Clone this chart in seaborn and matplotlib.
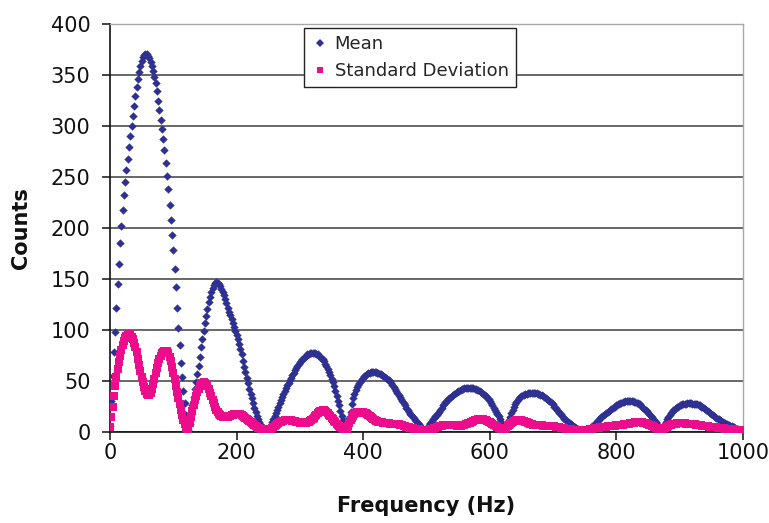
import numpy as np
import pandas as pd
import matplotlib
matplotlib.use("Agg")
import matplotlib.pyplot as plt
from matplotlib.lines import Line2D
import seaborn as sns

# Frequency grid (Hz), sampled every 2 Hz
freq = np.arange(0, 1001, 2)

# Mean counts (one row = 20 Hz)
mean_counts = [
    6, 30, 55, 78, 98, 122, 145, 165, 185, 202,          # 0-18
    218, 232, 245, 257, 268, 279, 290, 300, 310, 320,    # 20-38
    329, 338, 346, 353, 359, 364, 368, 370, 371, 371,    # 40-58
    369, 367, 363, 359, 354, 348, 342, 334, 325, 316,    # 60-78
    306, 297, 287, 276, 264, 251, 238, 223, 208, 193,    # 80-98
    178, 160, 142, 122, 102, 85, 68, 54, 40, 28,         # 100-118
    17, 9, 2, 8, 17, 26, 34, 42, 49, 57,                 # 120-138
    65, 74, 83, 91, 99, 107, 114, 121, 127, 132,         # 140-158
    137, 141, 144, 146, 147, 146, 145, 143, 140, 137,    # 160-178
    134, 130, 126, 122, 118, 115, 111, 107, 103, 99,     # 180-198
    95, 91, 86, 81, 76, 70, 64, 59, 53, 48,              # 200-218
    42, 37, 33, 28, 24, 20, 16, 13, 10, 7,               # 220-238
    5, 3, 2, 1, 1, 2, 4, 7, 10, 13,                      # 240-258
    16, 19, 22, 25, 28, 31, 34, 37, 40, 43,              # 260-278
    46, 48, 51, 53, 56, 58, 61, 63, 65, 67,              # 280-298
    69, 70, 72, 73, 74, 75, 76, 76, 77, 77,              # 300-318
    77, 77, 77, 76, 76, 75, 74, 73, 72, 70,              # 320-338
    67, 65, 62, 59, 56, 52, 49, 45, 40, 35,              # 340-358
    30, 26, 21, 16, 12, 8, 4, 2, 8, 14,                  # 360-378
    20, 27, 33, 37, 41, 44, 46, 48, 50, 52,              # 380-398
    53, 55, 56, 57, 58, 58, 59, 59, 59, 59,              # 400-418
    59, 58, 58, 57, 57, 56, 55, 54, 53, 52,              # 420-438
    51, 50, 48, 46, 44, 42, 40, 38, 36, 34,              # 440-458
    32, 30, 28, 26, 24, 22, 20, 18, 17, 15,              # 460-478
    14, 12, 11, 9, 8, 6, 5, 3, 2, 1,                     # 480-498
    3, 5, 7, 9, 11, 13, 14, 16, 17, 19,                  # 500-518
    20, 22, 24, 26, 27, 29, 30, 32, 33, 34,              # 520-538
    35, 36, 37, 38, 39, 40, 40, 41, 42, 42,              # 540-558
    43, 43, 43, 43, 43, 43, 43, 43, 42, 42,              # 560-578
    41, 41, 40, 39, 38, 37, 36, 35, 33, 32,              # 580-598
    30, 28, 26, 24, 22, 20, 18, 16, 13, 10,              # 600-618
    6, 3, 2, 5, 8, 12, 15, 19, 22, 25,                   # 620-638
    27, 29, 31, 33, 34, 35, 36, 36, 37, 37,              # 640-658
    38, 38, 38, 38, 38, 38, 38, 38, 37, 37,              # 660-678
    36, 36, 35, 34, 33, 32, 31, 30, 29, 28,              # 680-698
    27, 25, 24, 22, 21, 19, 18, 16, 15, 13,              # 700-718
    12, 11, 10, 9, 8, 7, 6, 5, 4, 3,                     # 720-738
    3, 2, 2, 1, 1, 1, 2, 2, 3, 4,                        # 740-758
    5, 6, 7, 8, 9, 11, 12, 14, 15, 16,                   # 760-778
    17, 18, 19, 20, 21, 22, 23, 24, 25, 25,              # 780-798
    26, 27, 27, 28, 28, 29, 29, 30, 30, 30,              # 800-818
    30, 30, 30, 30, 29, 29, 28, 28, 27, 27,              # 820-838
    25, 24, 23, 22, 21, 19, 18, 16, 15, 13,              # 840-858
    12, 10, 8, 6, 5, 3, 2, 4, 7, 10,                     # 860-878
    13, 15, 17, 19, 20, 22, 23, 24, 25, 25,              # 880-898
    26, 26, 27, 27, 27, 27, 28, 28, 28, 28,              # 900-918
    27, 27, 27, 27, 27, 26, 26, 25, 25, 24,              # 920-938
    23, 22, 21, 20, 19, 18, 17, 16, 15, 14,              # 940-958
    13, 13, 12, 11, 10, 9, 9, 8, 7, 7,                   # 960-978
    6, 6, 5, 5, 4, 3, 3, 2, 2, 1,                        # 980-998
    1,                                                   # 1000
]

# Standard deviation (one row = 20 Hz)
std_counts = [
    5, 15, 25, 35, 45, 54, 62, 69, 75, 80,               # 0-18
    85, 89, 92, 94, 95, 96, 95, 93, 91, 87,              # 20-38
    83, 78, 72, 66, 60, 54, 49, 44, 40, 37,              # 40-58
    36, 36, 38, 42, 47, 52, 58, 63, 68, 72,              # 60-78
    75, 77, 78, 79, 79, 79, 77, 74, 70, 64,              # 80-98
    58, 52, 45, 39, 33, 27, 22, 17, 12, 8,               # 100-118
    4, 1, 3, 9, 15, 21, 26, 31, 35, 39,                  # 120-138
    42, 45, 47, 48, 49, 48, 47, 45, 42, 38,              # 140-158
    35, 31, 28, 25, 22, 20, 18, 17, 16, 15,              # 160-178
    15, 15, 15, 15, 16, 16, 17, 17, 18, 18,              # 180-198
    18, 18, 18, 18, 17, 16, 15, 14, 13, 12,              # 200-218
    11, 10, 9, 8, 7, 6, 5, 4, 4, 3,                      # 220-238
    3, 2, 2, 2, 2, 2, 3, 3, 4, 5,                        # 240-258
    6, 7, 8, 9, 10, 10, 11, 11, 12, 12,                  # 260-278
    12, 12, 12, 12, 11, 11, 11, 10, 10, 10,              # 280-298
    9, 9, 9, 9, 9, 9, 10, 10, 11, 12,                    # 300-318
    13, 14, 16, 17, 19, 20, 21, 21, 22, 22,              # 320-338
    21, 20, 19, 17, 16, 14, 13, 11, 10, 8,               # 340-358
    7, 6, 5, 4, 3, 2, 1, 3, 6, 9,                        # 360-378
    12, 14, 16, 18, 19, 20, 20, 20, 20, 20,              # 380-398
    20, 19, 19, 18, 17, 16, 15, 14, 13, 12,              # 400-418
    11, 11, 10, 10, 10, 10, 9, 9, 9, 9,                  # 420-438
    9, 8, 8, 8, 8, 8, 8, 8, 8, 7,                        # 440-458
    7, 7, 6, 6, 5, 5, 5, 4, 4, 4,                        # 460-478
    3, 3, 3, 3, 3, 2, 2, 2, 2, 2,                        # 480-498
    2, 2, 2, 3, 3, 3, 4, 4, 5, 5,                        # 500-518
    6, 6, 6, 7, 7, 7, 7, 7, 7, 7,                        # 520-538
    7, 7, 7, 7, 6, 6, 6, 6, 7, 7,                        # 540-558
    7, 8, 8, 9, 9, 10, 10, 11, 12, 12,                   # 560-578
    12, 13, 13, 13, 13, 13, 12, 12, 11, 10,              # 580-598
    10, 9, 8, 7, 7, 6, 5, 4, 4, 3,                       # 600-618
    3, 2, 2, 4, 6, 7, 8, 9, 10, 11,                      # 620-638
    11, 12, 12, 12, 12, 12, 11, 11, 10, 10,              # 640-658
    9, 9, 8, 8, 7, 7, 7, 7, 7, 7,                        # 660-678
    7, 7, 6, 6, 6, 6, 6, 6, 6, 6,                        # 680-698
    6, 6, 5, 5, 5, 5, 4, 4, 4, 4,                        # 700-718
    3, 3, 3, 3, 3, 2, 2, 2, 2, 2,                        # 720-738
    2, 1, 1, 1, 1, 1, 2, 2, 2, 3,                        # 740-758
    3, 3, 4, 4, 4, 4, 4, 5, 5, 5,                        # 760-778
    5, 5, 5, 6, 6, 6, 6, 6, 6, 6,                        # 780-798
    7, 7, 7, 7, 7, 7, 8, 8, 8, 8,                        # 800-818
    8, 9, 9, 9, 9, 10, 10, 10, 10, 10,                   # 820-838
    10, 9, 9, 9, 8, 8, 7, 7, 6, 6,                       # 840-858
    5, 4, 4, 3, 3, 2, 2, 3, 4, 5,                        # 860-878
    5, 6, 7, 7, 8, 8, 8, 8, 9, 9,                        # 880-898
    9, 9, 9, 9, 9, 8, 8, 8, 8, 8,                        # 900-918
    8, 8, 8, 7, 7, 7, 7, 7, 6, 6,                        # 920-938
    6, 6, 6, 5, 5, 5, 5, 5, 5, 5,                        # 940-958
    4, 4, 4, 4, 4, 4, 3, 3, 3, 3,                        # 960-978
    3, 3, 3, 2, 2, 2, 2, 2, 2, 1,                        # 980-998
    1,                                                   # 1000
]

series_names = ["Mean", "Standard Deviation"]
x_ticks = [0, 200, 400, 600, 800, 1000]
y_ticks = [0, 50, 100, 150, 200, 250, 300, 350, 400]

assert len(mean_counts) == len(freq) and len(std_counts) == len(freq)

df = pd.DataFrame({
    "Frequency (Hz)": np.concatenate([freq, freq]),
    "Counts": np.array(mean_counts + std_counts, dtype=float),
    "Series": [series_names[0]] * len(freq) + [series_names[1]] * len(freq),
})

BLUE = "#2E3192"
PINK = "#EC0C8C"

sns.set_theme(style="white")
plt.rcParams["font.family"] = ["DejaVu Sans"]

W, H = 769, 523
fig = plt.figure(figsize=(W / 100, H / 100), dpi=100)
L, R, T, B = 110, 743, 24, 432
ax = fig.add_axes([L / W, 1 - B / H, (R - L) / W, (B - T) / H])

sns.scatterplot(data=df[df["Series"] == series_names[0]], x="Frequency (Hz)", y="Counts",
                color=BLUE, marker="D", s=18, linewidth=0, ax=ax, legend=False, zorder=3)
sns.scatterplot(data=df[df["Series"] == series_names[1]], x="Frequency (Hz)", y="Counts",
                color=PINK, marker="s", s=34, linewidth=0, ax=ax, legend=False, zorder=4)

ax.set_xlim(0, 1000)
ax.set_ylim(0, 400)
ax.set_xticks(x_ticks)
ax.set_yticks(y_ticks)
ax.yaxis.grid(True, color="#5c5c5c", linewidth=1.3)
ax.xaxis.grid(False)
ax.set_axisbelow(True)

for side in ["left", "bottom"]:
    ax.spines[side].set_color("#111111")
    ax.spines[side].set_linewidth(1.2)
for side in ["top", "right"]:
    ax.spines[side].set_color("#a8a8a8")
    ax.spines[side].set_linewidth(1.0)

ax.tick_params(axis="both", which="major", direction="out", length=6, width=1.1,
               color="#111111", labelsize=15, labelcolor="#111111",
               left=True, bottom=True)
ax.tick_params(axis="y", pad=8)
ax.tick_params(axis="x", pad=2)

ax.set_xlabel("Frequency (Hz)", fontsize=15, fontweight="bold", color="#111111", labelpad=24)
ax.set_ylabel("Counts", fontsize=15, fontweight="bold", color="#111111", labelpad=14)

handles = [
    Line2D([], [], linestyle="none", marker="D", markersize=4, color=BLUE, markeredgewidth=0),
    Line2D([], [], linestyle="none", marker="s", markersize=4.5, color=PINK, markeredgewidth=0),
]
leg = fig.legend(handles, series_names, loc="upper left",
                 bbox_to_anchor=(304 / W, 1 - 28 / H), bbox_transform=fig.transFigure,
                 borderaxespad=0, fontsize=13, frameon=True, fancybox=False,
                 edgecolor="#222222", facecolor="white", framealpha=1,
                 handlelength=1.0, handletextpad=0.3, labelspacing=0.5,
                 borderpad=0.4)
leg.get_frame().set_linewidth(1.0)

fig.savefig("out.png", dpi=100)
